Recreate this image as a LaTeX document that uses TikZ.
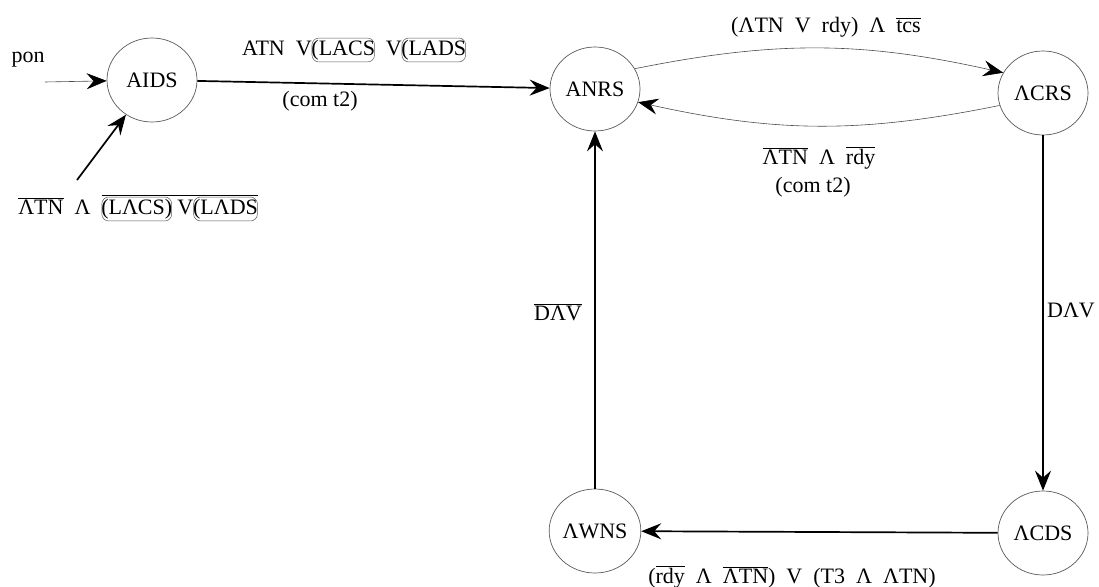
\documentclass[tikz,border=0pt]{standalone}
\usepackage{fontspec}
\setmainfont{Liberation Serif}
\usetikzlibrary{arrows.meta,shapes.misc,shapes.geometric}
\newcommand\ovl[1]{\tikz[baseline=(o.base)]\node[draw=black!65, line width=0.5pt, rectangle, rounded corners=7pt, inner xsep=-0.5pt, inner ysep=2pt] (o) {#1};}
\newcommand\negl[1]{$\overline{\mbox{#1}}$}
\begin{document}
\begin{tikzpicture}[x=1pt,y=1pt,
  state/.style={draw=black!65, line width=0.7pt, ellipse, minimum width=90pt, minimum height=84pt, inner sep=0pt, font=\fontsize{22}{25}\selectfont},
  lbl/.style={font=\fontsize{22}{25}\selectfont, inner sep=0pt},
  bigarrow/.style={line width=1.7pt, -{Stealth[length=20pt,width=16pt,inset=7pt]}},
  thinarrow/.style={line width=0.6pt, draw=black!70, -{Stealth[length=20pt,width=16pt,inset=7pt,fill=black,color=black]}},
]
\useasboundingbox (0,0) rectangle (1099,-586);
% states
\node[state] (aids) at (152,-80) {AIDS};
\node[state] (anrs) at (595,-89) {ANRS};
\node[state] (acrs) at (1043,-93) {ΛCRS};
\node[state] (acds) at (1043,-533) {ΛCDS};
\node[state] (awns) at (595,-531) {ΛWNS};
% entry arrows
\node[lbl] (pon) at (28,-60) {pon};
\coordinate (ponstart) at (45,-82);
\draw[thinarrow] (ponstart) -- (aids);
\node[lbl] (cond1) at (138,-208) {\negl{ΛTN}~~Λ~~\negl{\ovl{(LΛCS)}~V\ovl{(LΛDS}}};
\coordinate (c1start) at (77,-180);
\draw[bigarrow] (c1start) -- (aids);
% AIDS -> ANRS
\draw[bigarrow] (aids) -- (anrs);
\node[lbl] (t1) at (354,-50) {ATN~~V\ovl{(LACS}~~V\ovl{(LADS}};
\node[lbl] (t1b) at (320,-101) {(com t2)};
% ANRS <-> ACRS
\draw[thinarrow] (anrs.27) to[bend left=12] (acrs.153);
\node[lbl] (t2) at (826,-27) {(ΛTN~~V~~rdy)~~Λ~~\negl{tcs}};
\draw[thinarrow] (acrs.196) to[bend left=12] (anrs.-17);
\node[lbl] (t3) at (819,-158) {\negl{ΛTN}~~Λ~~\negl{rdy}};
\node[lbl] (t3b) at (813,-187) {(com t2)};
% ACRS -> ACDS
\draw[bigarrow] (acrs) -- (acds);
\node[lbl] (t4) at (1071,-310) {DΛV};
% ACDS -> AWNS
\draw[bigarrow] (acds) -- (awns);
\node[lbl] (t5) at (792,-577) {(\negl{rdy}~~Λ~~\negl{ΛTN})~~V~~(T3~~Λ~~ΛTN)};
% AWNS -> ANRS
\draw[bigarrow] (awns) -- (anrs);
\node[lbl] (t6) at (558,-312) {\negl{DΛV}};
\end{tikzpicture}
\end{document}
